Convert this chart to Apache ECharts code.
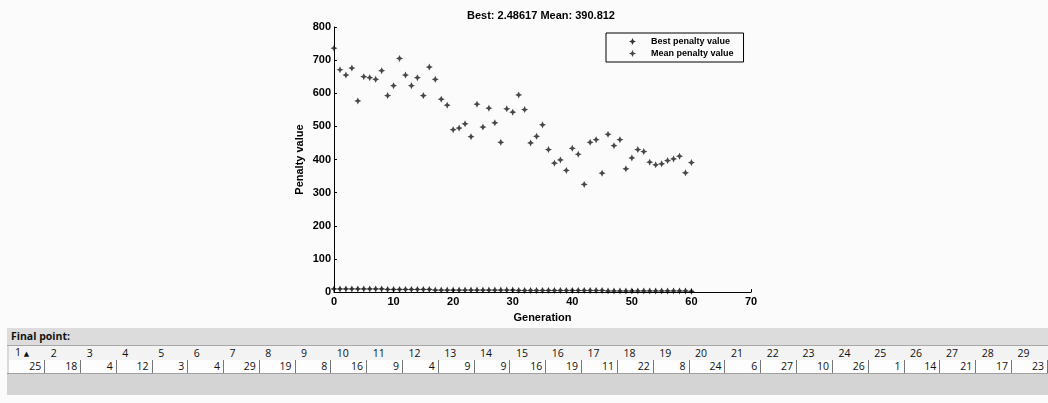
<!DOCTYPE html>
<html>
<head>
<meta charset="utf-8">
<script src="https://cdn.jsdelivr.net/npm/echarts@6/dist/echarts.min.js"></script>
<style>
  html, body { margin: 0; padding: 0; background: #fbfbfb; width: 1048px; height: 403px; overflow: hidden; }
  #chart { position: absolute; left: 0; top: 0; width: 1048px; height: 328px; }
  #panel { position: absolute; left: 7px; top: 328px; width: 1041px; height: 67px; background: #d9d9d9; overflow: hidden;
           font-family: "Open Sans", "DejaVu Sans", sans-serif; font-size: 10.5px; color: #111; }
  #panel .bar { height: 17px; line-height: 17px; padding-left: 4px; font-weight: bold; border-bottom: 1px solid #a8a8a8; background: #dcdcdc; }
  #panel table { border-collapse: collapse; table-layout: fixed; margin-left: 2px; }
  #panel td { padding: 0; height: 13px; line-height: 13px; white-space: nowrap; }
  #panel tr.head td { background: #f3f3f3; padding-left: 6px; width: 30.2px; }
  #panel tr.vals td { background: #fdfdfd; text-align: right; padding-right: 3px; width: 32.2px; border-right: 1px solid #777; }
  #panel .foot { border-top: 1px solid #a0a0a0; height: 22px; background: #d4d4d4; }
</style>
</head>
<body>
<div id="chart"></div>
<div id="panel">
  <div class="bar">Final point:</div>
  <table><tr class="head" id="head"></tr><tr class="vals" id="vals"></tr></table>
  <div class="foot"></div>
</div>
<script>
'use strict';

var generations = [0, 1, 2, 3, 4, 5, 6, 7, 8, 9, 10, 11, 12, 13, 14, 15, 16, 17, 18, 19, 20,
  21, 22, 23, 24, 25, 26, 27, 28, 29, 30, 31, 32, 33, 34, 35, 36, 37, 38, 39, 40,
  41, 42, 43, 44, 45, 46, 47, 48, 49, 50, 51, 52, 53, 54, 55, 56, 57, 58, 59, 60];

var bestPenalty = [9.6, 9.6, 9.6, 9.6, 9.6, 9.6, 9.6, 9.6, 9.6,
  8.1, 8.1, 8.1, 8.1, 8.1, 8.1, 8.1, 8.1,
  6.2, 6.2, 6.2, 6.2, 6.2, 6.2, 6.2, 6.2, 6.2, 6.2, 6.2, 6.2, 6.2, 6.2,
  5.0, 5.0, 5.0, 5.0, 5.0, 5.0, 5.0, 5.0, 5.0, 5.0, 5.0, 5.0, 5.0, 5.0, 5.0,
  3.6, 3.6, 3.6, 3.6, 3.6, 3.6, 3.6, 3.6, 3.6, 3.6, 3.6, 3.6, 3.6, 3.6,
  2.48617];

var meanPenalty = [736, 671, 655, 676, 577, 650, 647, 642, 668, 593, 623,
  705, 655, 623, 647, 593, 679, 642, 582, 564, 490,
  495, 508, 469, 567, 498, 555, 511, 452, 553, 543,
  595, 551, 450, 470, 505, 430, 389, 399, 367, 434,
  416, 325, 452, 460, 359, 476, 442, 460, 372, 405,
  430, 424, 392, 384, 387, 397, 402, 410, 360, 390.812];

var pointIndex = [1, 2, 3, 4, 5, 6, 7, 8, 9, 10, 11, 12, 13, 14, 15, 16, 17, 18, 19, 20,
  21, 22, 23, 24, 25, 26, 27, 28, 29];
var finalPoint = [25, 18, 4, 12, 3, 4, 29, 19, 8, 16, 9, 4, 9, 9, 16, 19, 11, 22, 8, 24,
  6, 27, 10, 26, 1, 14, 21, 17, 23];

// table of the final point
var headHtml = '', valsHtml = '';
pointIndex.forEach(function(n, i){
  headHtml += '<td>' + n + (i === 0 ? ' <span style="font-size:7px">&#9650;</span>' : '') + '</td>';
  valsHtml += '<td>' + finalPoint[i] + '</td>';
});
document.getElementById('head').innerHTML = headHtml;
document.getElementById('vals').innerHTML = valsHtml;

var star = 'path://M0,-1 L0.32,-0.32 L1,0 L0.32,0.32 L0,1 L-0.32,0.32 L-1,0 L-0.32,-0.32 Z';
var axisFont = { fontFamily: 'Liberation Sans', fontSize: 11, fontWeight: 'bold', color: '#000' };

var chart = echarts.init(document.getElementById('chart'), null, { renderer: 'canvas' });
var option = {
  backgroundColor: '#fbfbfb',
  animation: false,
  title: {
    text: 'Best: 2.48617 Mean: 390.812',
    left: 462,
    top: 5,
    textStyle: { fontFamily: 'Liberation Sans', fontSize: 11, fontWeight: 'bold', color: '#000' }
  },
  legend: {
    orient: 'vertical',
    left: 606,
    top: 33,
    width: 139,
    borderColor: '#000',
    borderWidth: 1,
    padding: [4, 10, 4, 23],
    itemGap: 3,
    itemWidth: 7,
    itemHeight: 7,
    textStyle: { fontFamily: 'Liberation Sans', fontSize: 9, fontWeight: 'bold', color: '#000', padding: [0, 0, 0, 10] },
    data: ['Best penalty value', 'Mean penalty value']
  },
  grid: { left: 334, top: 27, width: 417, height: 266 },
  xAxis: {
    type: 'value',
    min: 0, max: 70, interval: 10,
    name: 'Generation',
    nameLocation: 'middle',
    nameGap: 19,
    nameTextStyle: { fontFamily: 'Liberation Sans', fontSize: 11, fontWeight: 'bold', color: '#000' },
    axisLine: { lineStyle: { color: '#000', width: 1 } },
    axisTick: { inside: true, length: 3, lineStyle: { color: '#000' } },
    axisLabel: Object.assign({ margin: 4 }, axisFont),
    splitLine: { show: false }
  },
  yAxis: {
    type: 'value',
    min: 0, max: 800, interval: 100,
    name: 'Penalty value',
    nameLocation: 'middle',
    nameGap: 29,
    nameTextStyle: { fontFamily: 'Liberation Sans', fontSize: 11, fontWeight: 'bold', color: '#000' },
    axisLine: { show: true, lineStyle: { color: '#000', width: 1 } },
    axisTick: { show: true, inside: true, length: 3, lineStyle: { color: '#000' } },
    axisLabel: Object.assign({ margin: 3 }, axisFont),
    splitLine: { show: false }
  },
  series: [
    {
      name: 'Best penalty value',
      type: 'scatter',
      symbol: star,
      symbolSize: 7,
      itemStyle: { color: '#000' },
      data: generations.map(function(g, i){ return [g, bestPenalty[i]]; })
    },
    {
      name: 'Mean penalty value',
      type: 'scatter',
      symbol: star,
      symbolSize: 7,
      itemStyle: { color: '#1a1a1a' },
      data: generations.map(function(g, i){ return [g, meanPenalty[i]]; })
    }
  ]
};
chart.setOption(option);
</script>
</body>
</html>
